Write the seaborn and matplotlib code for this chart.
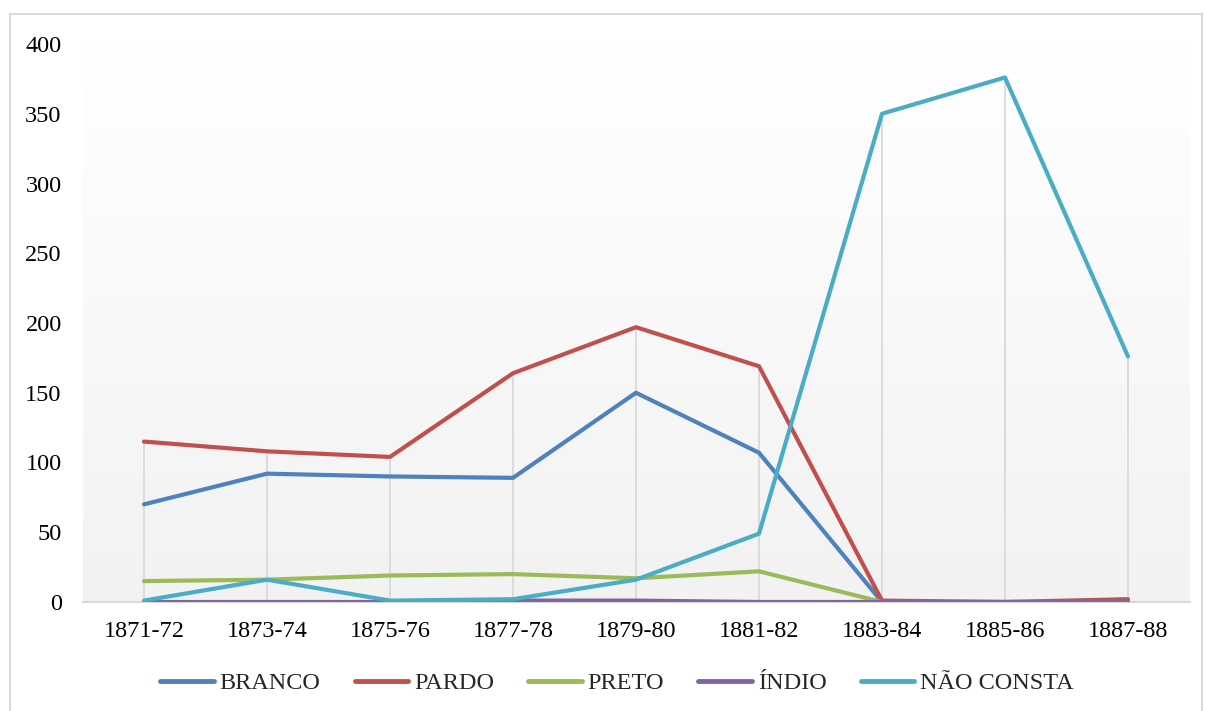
import matplotlib
matplotlib.use("Agg")
import matplotlib.pyplot as plt
import seaborn as sns
import pandas as pd
import numpy as np
from matplotlib.patches import Rectangle
from matplotlib.colors import LinearSegmentedColormap

periods = ["1871-72", "1873-74", "1875-76", "1877-78", "1879-80",
           "1881-82", "1883-84", "1885-86", "1887-88"]
branco = [70, 92, 90, 89, 150, 107, 0, 0, 0]
pardo = [115, 108, 104, 164, 197, 169, 1, 0, 2]
preto = [15, 16, 19, 20, 17, 22, 0, 0, 0]
indio = [0, 0, 0, 1, 1, 0, 0, 0, 0]
nao_consta = [1, 16, 1, 2, 16, 49, 350, 376, 176]

series_names = ["BRANCO", "PARDO", "PRETO", "ÍNDIO", "NÃO CONSTA"]
series_vals = [branco, pardo, preto, indio, nao_consta]
colors = ["#4F81BD", "#C0504D", "#9BBB59", "#8064A2", "#4BACC6"]

rows = []
for name, vals in zip(series_names, series_vals):
    for i, (p, v) in enumerate(zip(periods, vals)):
        rows.append({"period": p, "idx": i, "serie": name, "valor": v})
df = pd.DataFrame(rows)

sns.set_theme(style="white")
plt.rcParams["font.family"] = ["Liberation Serif", "DejaVu Serif"]

fig = plt.figure(figsize=(12.05, 7.11), dpi=100)
ax = fig.add_axes([82.5 / 1205, 1 - 602 / 711, (1189.5 - 82.5) / 1205, (602 - 44) / 711])

# outer frame
fig.patches.append(Rectangle((10 / 1205, -0.01), 1192 / 1205, 1 - 14 / 711 + 0.01,
                             transform=fig.transFigure, fill=False,
                             edgecolor="#d9d9d9", linewidth=1.5, zorder=0))

ax.set_xlim(-0.5, len(periods) - 0.5)
ax.set_ylim(0, 400)

# gradient background
grad = np.linspace(0, 1, 256).reshape(-1, 1)
cmap = LinearSegmentedColormap.from_list("g", ["#f2f2f2", "#ffffff"])
ax.imshow(grad, extent=(-0.5, len(periods) - 0.5, 0, 400), origin="lower",
          aspect="auto", cmap=cmap, zorder=0)

# drop lines
maxes = df.groupby("idx")["valor"].max()
ax.vlines(maxes.index, 0, maxes.values, colors="#d9d9d9", linewidth=1.3, zorder=1)

sns.lineplot(data=df, x="idx", y="valor", hue="serie", hue_order=series_names,
             palette=colors, linewidth=3, ax=ax, legend=False, zorder=3)

ax.set_xticks(range(len(periods)))
ax.set_xticklabels(periods)
ax.set_yticks(range(0, 401, 50))
ax.tick_params(axis="both", labelsize=17.5, colors="black", length=0)
ax.tick_params(axis="x", pad=14)
ax.tick_params(axis="y", pad=15)
ax.set_xlabel("")
ax.set_ylabel("")
for s in ["top", "right", "left"]:
    ax.spines[s].set_visible(False)
ax.spines["bottom"].set_color("#d9d9d9")
ax.spines["bottom"].set_linewidth(1.5)
ax.grid(False)

handles = [plt.Line2D([0], [0], color=c, linewidth=3.5) for c in colors]
fig.legend(handles, series_names, loc="center", bbox_to_anchor=(617 / 1205, 1 - 683 / 711),
           ncol=5, frameon=False, fontsize=17.5, handlelength=2.2, columnspacing=1.4,
           handletextpad=0.25)

fig.savefig("out.png", dpi=100)
